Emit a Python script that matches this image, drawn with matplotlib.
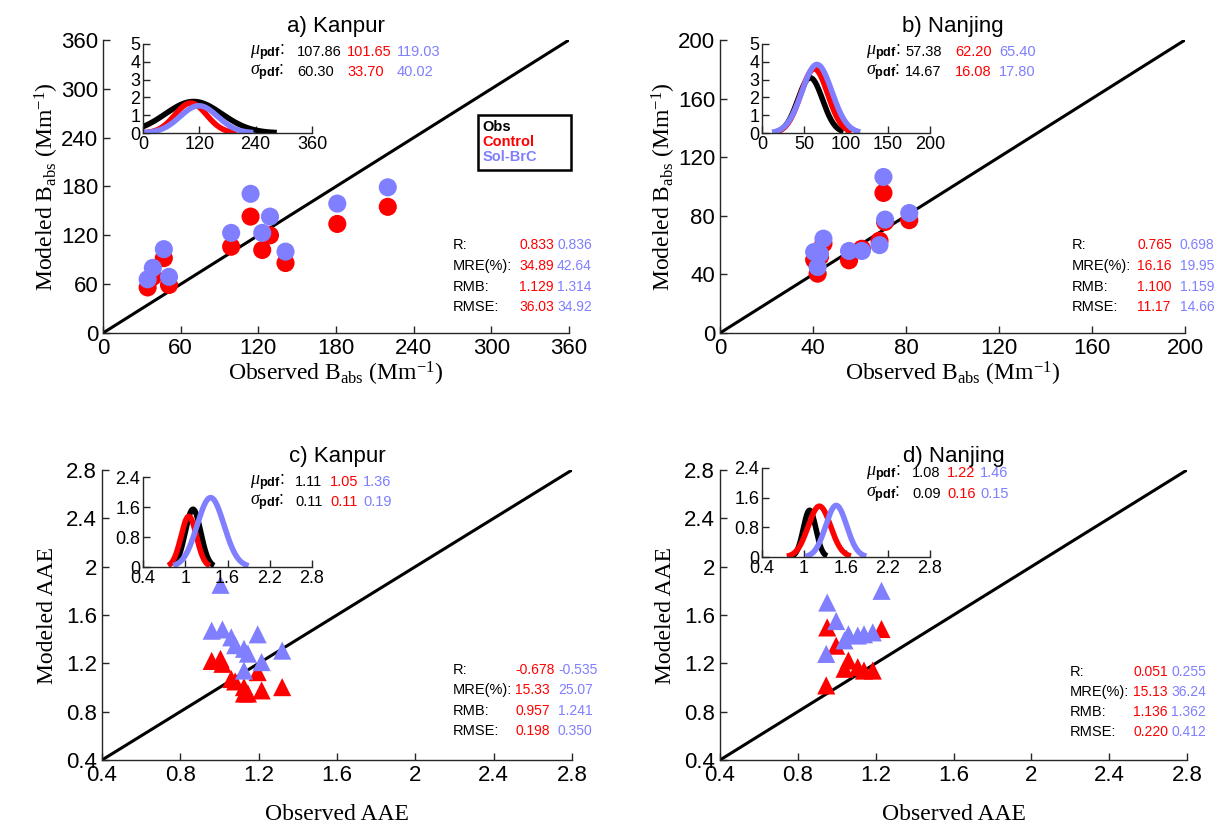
import matplotlib
matplotlib.use("Agg")
import matplotlib.pyplot as plt
import numpy as np
from matplotlib.patches import Rectangle

plt.rcParams['font.family'] = ['Liberation Sans', 'DejaVu Sans']
plt.rcParams['mathtext.fontset'] = 'custom'
plt.rcParams['mathtext.it'] = 'Liberation Serif:italic'
plt.rcParams['mathtext.bf'] = 'Liberation Sans:bold'
plt.rcParams['mathtext.rm'] = 'Liberation Sans'

RED = '#FF0000'
BLUE = '#7F7FFF'
AXC = '#262626'

# ---- data ----
# Kanpur B_abs
kan_babs_obs = [34.5, 38.5, 47, 51, 99, 114, 123, 129, 141, 181, 220]
kan_babs_ctl = [56, 69, 92, 59, 106, 143, 102, 120, 86, 134, 155]
kan_babs_sol = [66, 80, 103, 69, 123, 171, 123, 143, 100, 159, 179]
# Nanjing B_abs
nan_babs_obs = [40.5, 42, 43, 44.5, 55.5, 61, 68.6, 70.3, 71, 81.4]
nan_babs_ctl = [50, 40.5, 52, 61, 49.6, 57.5, 63, 95.6, 75.8, 77]
nan_babs_sol = [55.3, 45, 54, 64.4, 56, 56, 60, 106.5, 77.4, 81.9]
# Kanpur AAE
kan_aae_obs = [0.96, 1.005, 1.015, 1.06, 1.08, 1.125, 1.125, 1.145, 1.195, 1.215, 1.32]
kan_aae_ctl = [1.22, 1.237, 1.196, 1.07, 1.05, 1.003, 0.95, 0.95, 1.127, 0.976, 1.003]
kan_aae_sol = [1.47, 1.85, 1.48, 1.415, 1.35, 1.32, 1.14, 1.28, 1.44, 1.21, 1.305]
# Nanjing AAE
nan_aae_obs = [0.946, 0.951, 0.997, 1.04, 1.06, 1.108, 1.14, 1.185, 1.23]
nan_aae_ctl = [1.017, 1.497, 1.346, 1.155, 1.223, 1.168, 1.14, 1.14, 1.484]
nan_aae_sol = [1.278, 1.703, 1.55, 1.39, 1.44, 1.43, 1.44, 1.456, 1.80]

# pdf summaries: (mu, sigma) for Obs, Control, Sol-BrC
pdf_mu = {'a': [107.86, 101.65, 119.03], 'b': [57.38, 62.20, 65.40],
          'c': [1.11, 1.05, 1.36], 'd': [1.08, 1.22, 1.46]}
pdf_sigma = {'a': [60.30, 33.70, 40.02], 'b': [14.67, 16.08, 17.80],
             'c': [0.11, 0.11, 0.19], 'd': [0.09, 0.16, 0.15]}
# curve peak heights and plotted x-ranges as seen in the insets
pdf_peak = {'a': [1.77, 1.68, 1.53], 'b': [3.1, 3.6, 3.85],
            'c': [1.54, 1.35, 1.85], 'd': [1.26, 1.37, 1.39]}
pdf_range = {'a': [(0, 285), (0, 200), (0, 235)],
             'b': [(20, 97), (15, 107), (12, 117)],
             'c': [(0.83, 1.41), (0.757, 1.35), (0.83, 1.9)],
             'd': [(0.80, 1.33), (0.756, 1.67), (1.02, 1.89)]}

stat_names = ['R:', 'MRE(%):', 'RMB:', 'RMSE:']
stats_ctl = {'a': ['0.833', '34.89', '1.129', '36.03'],
             'b': ['0.765', '16.16', '1.100', '11.17'],
             'c': ['-0.678', '15.33', '0.957', '0.198'],
             'd': ['0.051', '15.13', '1.136', '0.220']}
stats_sol = {'a': ['0.836', '42.64', '1.314', '34.92'],
             'b': ['0.698', '19.95', '1.159', '14.66'],
             'c': ['-0.535', '25.07', '1.241', '0.350'],
             'd': ['0.255', '36.24', '1.362', '0.412']}

legend_labels = ['Obs', 'Control', 'Sol-BrC']
legend_colors = ['black', RED, BLUE]

W, H = 1225, 831
fig = plt.figure(figsize=(W / 100, H / 100), dpi=100)


def px_axes(l, t, r, b):
    return fig.add_axes([l / W, 1 - b / H, (r - l) / W, (b - t) / H])


def style(ax, fs):
    for s in ['top', 'right']:
        ax.spines[s].set_visible(False)
    for s in ['left', 'bottom']:
        ax.spines[s].set_color(AXC)
        ax.spines[s].set_linewidth(1.0)
    ax.tick_params(direction='in', length=5, width=1, colors=AXC,
                   labelsize=fs, labelcolor='black')


def ftxt(x, y, s, **kw):
    fig.text(x / W, 1 - y / H, s, va='center', ha='left', **kw)


babs_x = 'Observed B$_{\\mathregular{abs}}$ (Mm$^{\\mathregular{-1}}$)'
babs_y = 'Modeled B$_{\\mathregular{abs}}$ (Mm$^{\\mathregular{-1}}$)'

panels = [
    dict(key='a', title='a) Kanpur', box=(103, 40, 569, 333), inset=(143, 44, 312, 133),
         obs=kan_babs_obs, ctl=kan_babs_ctl, sol=kan_babs_sol, marker='o',
         lim=(0, 360), ticks=[0, 60, 120, 180, 240, 300, 360],
         ilim=(0, 360), iticks=[0, 120, 240, 360], iylim=(0, 5), iyticks=[0, 1, 2, 3, 4, 5],
         xl=babs_x, yl=babs_y, xpad=1, ypad=0,
         mu_x=(250, 297, 347, 397), mu_y=(52, 72),
         st_x=(453, 519, 557), st_y=(245, 266, 287, 307)),
    dict(key='b', title='b) Nanjing', box=(720, 40, 1185, 333), inset=(762, 44, 930, 133),
         obs=nan_babs_obs, ctl=nan_babs_ctl, sol=nan_babs_sol, marker='o',
         lim=(0, 200), ticks=[0, 40, 80, 120, 160, 200],
         ilim=(0, 200), iticks=[0, 50, 100, 150, 200], iylim=(0, 5), iyticks=[0, 1, 2, 3, 4, 5],
         xl=babs_x, yl=babs_y, xpad=1, ypad=0,
         mu_x=(866, 905, 955, 999), mu_y=(52, 72),
         st_x=(1072, 1137, 1180), st_y=(245, 266, 287, 307)),
    dict(key='c', title='c) Kanpur', box=(102, 470, 572, 760), inset=(143, 477, 312, 567),
         obs=kan_aae_obs, ctl=kan_aae_ctl, sol=kan_aae_sol, marker='^',
         lim=(0.4, 2.8), ticks=[0.4, 0.8, 1.2, 1.6, 2, 2.4, 2.8],
         ilim=(0.4, 2.8), iticks=[0.4, 1, 1.6, 2.2, 2.8], iylim=(0, 2.4), iyticks=[0, 0.8, 1.6, 2.4],
         xl='Observed AAE', yl='Modeled AAE', xpad=13, ypad=6,
         mu_x=(250, 295, 330, 363), mu_y=(482, 502),
         st_x=(453, 515, 558), st_y=(670, 690, 711, 731)),
    dict(key='d', title='d) Nanjing', box=(720, 470, 1187, 760), inset=(762, 468, 930, 557),
         obs=nan_aae_obs, ctl=nan_aae_ctl, sol=nan_aae_sol, marker='^',
         lim=(0.4, 2.8), ticks=[0.4, 0.8, 1.2, 1.6, 2, 2.4, 2.8],
         ilim=(0.4, 2.8), iticks=[0.4, 1, 1.6, 2.2, 2.8], iylim=(0, 2.4), iyticks=[0, 0.8, 1.6, 2.4],
         xl='Observed AAE', yl='Modeled AAE', xpad=13, ypad=6,
         mu_x=(866, 912, 947, 980), mu_y=(473, 494),
         st_x=(1070, 1133, 1171), st_y=(672, 692, 712, 732)),
]

for p in panels:
    ax = px_axes(*p['box'])
    style(ax, 16)
    lo, hi = p['lim']
    ax.plot([lo, hi], [lo, hi], color='black', lw=2.2, zorder=2)
    ax.scatter(p['obs'], p['ctl'], s=170, marker=p['marker'], color=RED,
               edgecolors='none', zorder=3)
    ax.scatter(p['obs'], p['sol'], s=170, marker=p['marker'], color=BLUE,
               edgecolors='none', zorder=4)
    ax.set_xlim(lo, hi)
    ax.set_ylim(lo, hi)
    ax.set_xticks(p['ticks'])
    ax.set_yticks(p['ticks'])
    ax.set_xticklabels([f'{t:g}' for t in p['ticks']])
    ax.set_yticklabels([f'{t:g}' for t in p['ticks']])
    ax.set_xlabel(p['xl'], family='Liberation Serif', fontsize=17, labelpad=p['xpad'])
    ax.set_ylabel(p['yl'], family='Liberation Serif', fontsize=17, labelpad=p['ypad'])
    ax.set_title(p['title'], fontsize=16, pad=6)

    # stats block
    k = p['key']
    for i, name in enumerate(stat_names):
        ftxt(p['st_x'][0], p['st_y'][i], name, fontsize=10.5, color='black')
        ftxt(p['st_x'][1], p['st_y'][i], stats_ctl[k][i], fontsize=10, color=RED)
        ftxt(p['st_x'][2], p['st_y'][i], stats_sol[k][i], fontsize=10, color=BLUE)

    # mu / sigma block
    fmt = '{:.2f}'
    ftxt(p['mu_x'][0], p['mu_y'][0], r'$\mu_{\mathbf{pdf}}$:', fontsize=13)
    ftxt(p['mu_x'][0], p['mu_y'][1], r'$\sigma_{\mathbf{pdf}}$:', fontsize=13)
    for j, c in enumerate(['black', RED, BLUE]):
        ftxt(p['mu_x'][j + 1], p['mu_y'][0], fmt.format(pdf_mu[k][j]), fontsize=10.5, color=c)
        ftxt(p['mu_x'][j + 1], p['mu_y'][1], fmt.format(pdf_sigma[k][j]), fontsize=10.5, color=c)

    # inset with pdf curves
    ia = px_axes(*p['inset'])
    style(ia, 13)
    for j, c in enumerate(['black', RED, BLUE]):
        x0, x1 = pdf_range[k][j]
        xx = np.linspace(x0, x1, 200)
        yy = pdf_peak[k][j] * np.exp(-0.5 * ((xx - pdf_mu[k][j]) / pdf_sigma[k][j]) ** 2)
        ia.plot(xx, yy, color=c, lw=4, solid_capstyle='butt')
    ia.set_xlim(*p['ilim'])
    ia.set_ylim(*p['iylim'])
    ia.set_xticks(p['iticks'])
    ia.set_xticklabels([f'{t:g}' for t in p['iticks']])
    ia.set_yticks(p['iyticks'])
    ia.set_yticklabels([f'{t:g}' for t in p['iyticks']])
    ia.tick_params(pad=2)
    ia.patch.set_alpha(0)

    if k == 'a':
        # legend box: coloured labels only, framed
        ax.add_patch(Rectangle((0.805, 0.556), 0.199, 0.188, transform=ax.transAxes,
                               facecolor='white', edgecolor='black', lw=1.8,
                               zorder=5, clip_on=False))
        for j, (lab, c) in enumerate(zip(legend_labels, legend_colors)):
            ax.text(0.815, 0.703 - j * 0.051, lab, transform=ax.transAxes,
                    color=c, fontsize=10.5, fontweight='bold', va='center',
                    ha='left', zorder=6)

fig.savefig('out.png', dpi=100)
